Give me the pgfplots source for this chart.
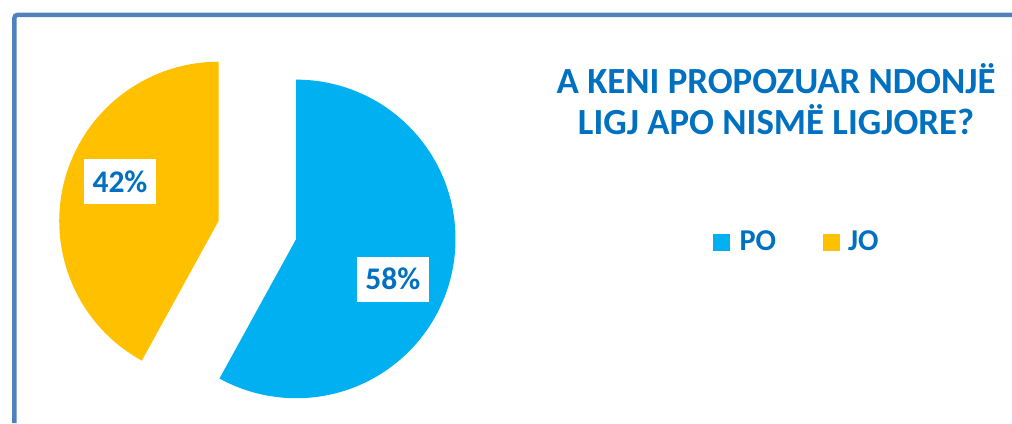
\documentclass[border=0pt]{standalone}
\usepackage{fontspec}
\setmainfont{Carlito}
\usepackage{pgfplots}
\usepackage{pgfplotstable}
\pgfplotsset{compat=1.18}
\definecolor{pocol}{RGB}{0,176,240}
\definecolor{jocol}{RGB}{255,192,0}
\definecolor{txtblue}{RGB}{0,112,192}
\definecolor{framecol}{RGB}{79,129,189}

\pgfplotstableread{
label value
PO 58
JO 42
}\piedata

\begin{document}
\pgfplotstablegetelem{0}{value}\of\piedata \let\valPO\pgfplotsretval
\pgfplotstablegetelem{1}{value}\of\piedata \let\valJO\pgfplotsretval
\pgfmathsetmacro\angPO{\valPO/(\valPO+\valJO)*360}
\begin{tikzpicture}
  \begin{axis}[scale only axis,width=506pt,height=212.5pt,
    xmin=0,xmax=1012,ymin=0,ymax=425,hide axis,clip=false]
    % frame
    \draw[framecol,line width=2.25pt,rounded corners=1.5pt]
      (axis cs:10,0) -- (axis cs:10,410) -- (axis cs:1012,410);
    % slices (PO from 12 o'clock clockwise, JO exploded to the left)
    \fill[pocol] (axis cs:293,185) -- ++(90:80pt)
      arc[start angle=90,delta angle=-\angPO,radius=80pt] -- cycle;
    \fill[jocol] (axis cs:215,203) -- ++(90-\angPO:80pt)
      arc[start angle=90-\angPO,end angle=-270,radius=80pt] -- cycle;
    % data labels
    \node[fill=white,text=txtblue,font=\fontsize{15.8}{18}\selectfont\bfseries,
      minimum width=36pt,minimum height=22.5pt,inner sep=0pt]
      at (axis cs:116,242.5) {\valJO\%};
    \node[fill=white,text=txtblue,font=\fontsize{15.8}{18}\selectfont\bfseries,
      minimum width=36pt,minimum height=22.5pt,inner sep=0pt]
      at (axis cs:390,144.5) {\valPO\%};
    % title
    \node[anchor=base,text=txtblue,font=\fontsize{18.5}{20}\selectfont\bfseries,inner sep=0pt]
      at (axis cs:775,331) {A KENI PROPOZUAR NDONJË};
    \node[anchor=base,text=txtblue,font=\fontsize{18.5}{20}\selectfont\bfseries,inner sep=0pt]
      at (axis cs:775,290) {LIGJ APO NISMË LIGJORE?};
    % legend
    \fill[pocol] (axis cs:712,173) rectangle (axis cs:729,190);
    \node[anchor=base west,text=txtblue,font=\fontsize{15.2}{17}\selectfont\bfseries,inner sep=0pt]
      at (axis cs:738,173) {PO};
    \fill[jocol] (axis cs:822,173) rectangle (axis cs:839,190);
    \node[anchor=base west,text=txtblue,font=\fontsize{15.2}{17}\selectfont\bfseries,inner sep=0pt]
      at (axis cs:847,173) {JO};
  \end{axis}
  \pgfresetboundingbox
  \useasboundingbox (current axis.south west) rectangle (current axis.north east);
\end{tikzpicture}
\end{document}
